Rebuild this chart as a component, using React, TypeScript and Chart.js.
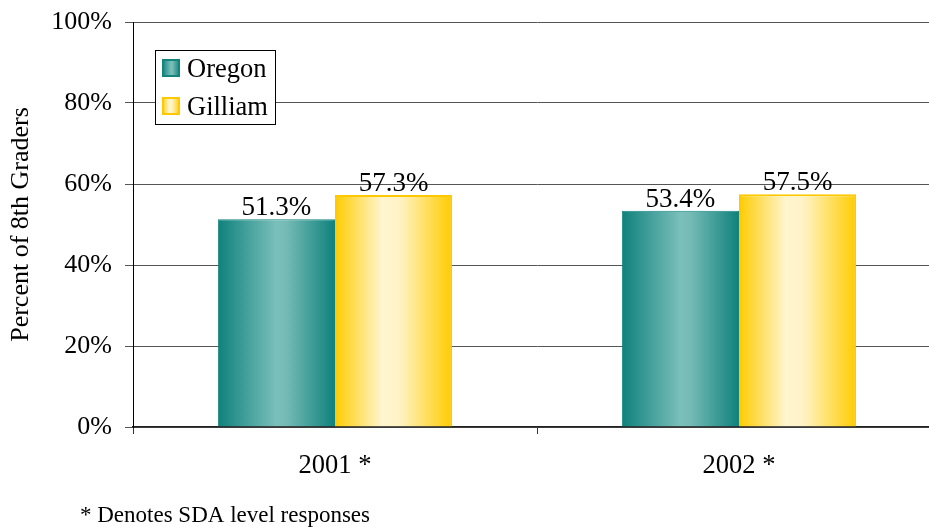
import React, { useEffect, useRef } from "react";
import { Chart, registerables } from "chart.js";

Chart.register(...registerables);

const categories = ["2001 *", "2002 *"];
const seriesNames = ["Oregon", "Gilliam"];
const oregonValues = [51.3, 53.4];
const gilliamValues = [57.3, 57.5];
const yTicks = [0, 20, 40, 60, 80, 100];
const yTitle = "Percent of 8th Graders";
const footnote = "* Denotes SDA level responses";

const FONT = "'Liberation Serif', 'Times New Roman', serif";
const CAT_PCT = 0.58;

const gradStops: Record<number, [number, string][]> = {
  0: [
    [0, "#0f817c"],
    [0.5, "#7abfba"],
    [0.58, "#76bbb6"],
    [1, "#0f817c"],
  ],
  1: [
    [0, "#ffcc00"],
    [0.4, "#fff5cf"],
    [0.55, "#fff3c6"],
    [1, "#ffcc00"],
  ],
};
const borderCols = ["#13857f", "#ffc800"];

function makeGrad(ctx: CanvasRenderingContext2D, x0: number, x1: number, ds: number) {
  const g = ctx.createLinearGradient(x0, 0, x1, 0);
  for (const [o, c] of gradStops[ds]) g.addColorStop(o, c);
  return g;
}

export default function App() {
  const ref = useRef<HTMLCanvasElement | null>(null);

  useEffect(() => {
    const canvas = ref.current;
    if (!canvas) return;

    const labelPlugin = {
      id: "valueLabels",
      afterDatasetsDraw(chart: any) {
        const ctx = chart.ctx;
        ctx.save();
        ctx.font = `27px ${FONT}`;
        ctx.fillStyle = "#000";
        ctx.textAlign = "center";
        ctx.textBaseline = "alphabetic";
        chart.data.datasets.forEach((ds: any, di: number) => {
          const meta = chart.getDatasetMeta(di);
          meta.data.forEach((el: any, i: number) => {
            ctx.fillText(ds.data[i].toFixed(1) + "%", el.x, el.y - 4);
          });
        });
        ctx.restore();
      },
    };

    const decorPlugin = {
      id: "decor",
      afterDraw(chart: any) {
        const ctx = chart.ctx;
        ctx.save();
        // legend
        const lx = 155.5, ly = 50.5, lw = 120, lh = 74;
        ctx.fillStyle = "#fff";
        ctx.fillRect(lx, ly, lw, lh);
        ctx.strokeStyle = "#000";
        ctx.lineWidth = 1;
        ctx.strokeRect(lx, ly, lw, lh);
        ctx.font = `26.5px ${FONT}`;
        ctx.textBaseline = "middle";
        ctx.textAlign = "left";
        chart.data.datasets.forEach((ds: any, di: number) => {
          const sy = 59 + di * 38;
          ctx.fillStyle = makeGrad(ctx, 162, 180, di);
          ctx.fillRect(162, sy, 18, 18);
          ctx.strokeStyle = borderCols[di];
          ctx.lineWidth = 2;
          ctx.strokeRect(163, sy + 1, 16, 16);
          ctx.fillStyle = "#000";
          ctx.fillText(ds.label, 187, sy + 11);
        });
        // footnote
        ctx.font = `23px ${FONT}`;
        ctx.textBaseline = "alphabetic";
        ctx.fillStyle = "#000";
        ctx.fillText(footnote, 80, 522);
        ctx.restore();
      },
    };

    const bg = (di: number) => (c: any) => {
      const chart = c.chart;
      const xs = chart.scales?.x;
      if (!xs || c.dataIndex === undefined || !chart.chartArea) return gradStops[di][0][1];
      const cx = xs.getPixelForValue(c.dataIndex);
      const catW = xs.width / categories.length;
      const bw = (catW * CAT_PCT) / 2;
      const left = di === 0 ? cx - bw : cx;
      return makeGrad(chart.ctx, left, left + bw, di);
    };

    const chart = new Chart(canvas, {
      type: "bar",
      data: {
        labels: categories,
        datasets: [
          {
            label: seriesNames[0],
            data: oregonValues,
            backgroundColor: bg(0),
            borderColor: borderCols[0],
            borderWidth: 1,
            categoryPercentage: CAT_PCT,
            barPercentage: 1,
          },
          {
            label: seriesNames[1],
            data: gilliamValues,
            backgroundColor: bg(1),
            borderColor: borderCols[1],
            borderWidth: 2,
            categoryPercentage: CAT_PCT,
            barPercentage: 1,
          },
        ],
      },
      options: {
        responsive: false,
        animation: false,
        layout: { padding: { left: 0, right: 9, top: 22, bottom: 0 } },
        plugins: {
          legend: { display: false },
          tooltip: { enabled: false },
        },
        scales: {
          x: {
            offset: true,
            grid: {
              offset: true,
              drawOnChartArea: false,
              drawTicks: true,
              tickLength: 7,
              color: "#333",
            },
            border: { display: true, color: "#222", width: 1.5 },
            ticks: { color: "#000", font: { family: FONT, size: 26.5 }, padding: 16 },
            afterFit: (s: any) => {
              s.height = 100;
              s.paddingLeft = 0;
              s.paddingRight = 0;
            },
          },
          y: {
            min: 0,
            max: 100,
            afterBuildTicks: (s: any) => {
              s.ticks = yTicks.map((v) => ({ value: v }));
            },
            grid: { color: "#555", tickLength: 8, drawTicks: true },
            border: { display: true, color: "#000", width: 1 },
            ticks: {
              color: "#000",
              font: { family: FONT, size: 26 },
              padding: 13,
              callback: (v: any) => v + "%",
            },
            title: {
              display: true,
              text: yTitle,
              color: "#000",
              font: { family: FONT, size: 26 },
              padding: { top: 6, bottom: 0 },
            },
            afterFit: (s: any) => {
              s.width = 133;
              s.paddingTop = 0;
              s.paddingBottom = 0;
            },
          },
        },
      },
      plugins: [labelPlugin, decorPlugin],
    } as any);

    return () => chart.destroy();
  }, []);

  return (
    <div
      style={{
        position: "fixed",
        left: 0,
        top: 0,
        width: "100vw",
        height: "100vh",
        overflow: "hidden",
        background: "#fff",
      }}
    >
      <canvas ref={ref} width={950} height={527} style={{ display: "block" }} />
    </div>
  );
}
